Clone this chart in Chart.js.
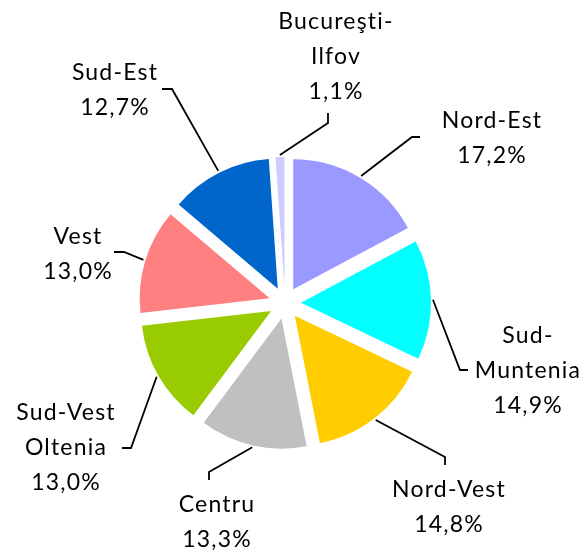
<!DOCTYPE html>
<html>
<head>
<meta charset="utf-8">
<script src="https://cdn.jsdelivr.net/npm/chart.js@4.4.0/dist/chart.umd.min.js"></script>
<style>
  html, body { margin: 0; padding: 0; background: #fff; }
</style>
</head>
<body>
<canvas id="regionChart" width="587" height="552"></canvas>
<script>
const regions = ['Nord-Est', 'Sud-Muntenia', 'Nord-Vest', 'Centru', 'Sud-Vest Oltenia', 'Vest', 'Sud-Est', 'Bucureşti-Ilfov'];
const shares = [17.2, 14.9, 14.8, 13.3, 13.0, 13.0, 12.7, 1.1];

// how each region name wraps inside its label
const labelLines = [
    ['Nord-Est'],
    ['Sud-', 'Muntenia'],
    ['Nord-Vest'],
    ['Centru'],
    ['Sud-Vest', 'Oltenia'],
    ['Vest'],
    ['Sud-Est'],
    ['Bucureşti-', 'Ilfov']
];

const sliceColors = ['#9999FF', '#00FFFF', '#FFCC00', '#C0C0C0', '#99CC00', '#FF8080', '#0066CC', '#CCCCFF'];

// how far each slice is pulled out, in pixels
const explode = 16;

// label centre, the elbow of its leader line and the short tick towards the text
const labelLayout = [
    { x: 492, y: 138, elbow: [412, 137], tick: [8, 0] },
    { x: 528, y: 371, elbow: [460, 370], tick: [8, 0] },
    { x: 449, y: 507, elbow: [445, 457], tick: [0, 8] },
    { x: 217, y: 522, elbow: [209, 472], tick: [0, 8] },
    { x: 66, y: 448, elbow: [131, 448], tick: [-9, 0] },
    { x: 78, y: 254, elbow: [124, 252], tick: [-10, 0] },
    { x: 115, y: 90, elbow: [172, 89], tick: [-10, 0] },
    { x: 336, y: 57, elbow: [328, 123], tick: [0, -10] }
];

function formatShare(v) {
    return v.toFixed(1).replace('.', ',') + '%';
}

// chart.js' own arc offset also shrinks the wedge, so slide whole wedges out instead
const explodedSlices = {
    id: 'explodedSlices',
    beforeDatasetDraw(chart, args) {
        const ctx = chart.ctx;
        args.meta.data.forEach(arc => {
            const mid = (arc.startAngle + arc.endAngle) / 2;
            ctx.save();
            ctx.translate(Math.cos(mid) * explode, Math.sin(mid) * explode);
            arc.draw(ctx);
            ctx.restore();
        });
        return false;
    }
};

const outsideLabels = {
    id: 'outsideLabels',
    afterDatasetsDraw(chart) {
        const ctx = chart.ctx;
        const ds = chart.data.datasets[0];
        const meta = chart.getDatasetMeta(0);
        ctx.save();
        ctx.strokeStyle = '#000';
        ctx.lineWidth = 1.8;
        ctx.fillStyle = '#000';
        ctx.font = '23px Lato';
        ctx.letterSpacing = '1.2px';
        ctx.textAlign = 'center';
        ctx.textBaseline = 'middle';

        meta.data.forEach((arc, i) => {
            const mid = (arc.startAngle + arc.endAngle) / 2;
            const r = arc.outerRadius + explode + 2;
            const lay = labelLayout[i];

            // leader line from the slice edge to the label
            ctx.beginPath();
            ctx.moveTo(arc.x + Math.cos(mid) * r, arc.y + Math.sin(mid) * r);
            ctx.lineTo(lay.elbow[0], lay.elbow[1]);
            ctx.lineTo(lay.elbow[0] + lay.tick[0], lay.elbow[1] + lay.tick[1]);
            ctx.stroke();

            const lines = labelLines[i].concat([formatShare(ds.data[i])]);
            const lh = 35;
            const top = lay.y - (lines.length - 1) * lh / 2;
            lines.forEach((t, j) => {
                ctx.fillText(t, lay.x, top + j * lh);
            });
        });
        ctx.restore();
    }
};

new Chart(document.getElementById('regionChart'), {
    type: 'pie',
    data: {
        labels: regions,
        datasets: [{
            data: shares,
            backgroundColor: sliceColors,
            borderWidth: 0,
            hoverOffset: 0
        }]
    },
    options: {
        responsive: false,
        animation: false,
        radius: 130,
        layout: {
            padding: { left: 0, right: 17, top: 54, bottom: 0 }
        },
        plugins: {
            legend: { display: false },
            tooltip: { enabled: false }
        }
    },
    plugins: [explodedSlices, outsideLabels]
});
</script>
</body>
</html>
